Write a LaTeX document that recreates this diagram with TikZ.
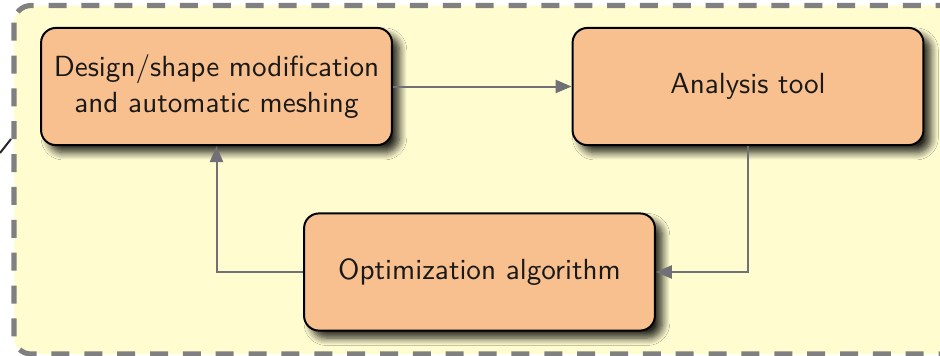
\documentclass[tikz,border=0pt]{standalone}
\usetikzlibrary{shadows.blur,arrows.meta}
\definecolor{panelfill}{RGB}{255,253,208}
\definecolor{boxfill}{RGB}{249,192,143}
\definecolor{framegray}{RGB}{128,128,128}
\definecolor{linkgray}{RGB}{112,112,118}
\begin{document}
\begin{tikzpicture}[x=0.35pt,y=-0.35pt,
  stagebox/.style={draw=black, line width=0.7pt, fill=boxfill,
    rounded corners=5.2pt, minimum width=122.8pt, minimum height=41pt,
    align=center, font=\sffamily\fontsize{10.2pt}{12.6pt}\selectfont,
    text=black!90,
    blur shadow={shadow xshift=2.6pt, shadow yshift=-2.6pt,
      shadow blur radius=2.6pt, shadow blur steps=8, shadow opacity=85}},
  link/.style={draw=linkgray, line width=0.7pt,
    -{Triangle[length=5.6pt,width=4.6pt]}},
]
\useasboundingbox (0,0) rectangle (940,355);

% incoming line ending at the panel edge
\coordinate (stubA) at (0,153);
\coordinate (stubB) at (11,139);
\draw[line width=0.7pt, black!85] (stubA) -- (stubB);

% dashed panel
\begin{scope}
  \clip (0,0) rectangle (940,355);
  \draw[fill=panelfill, draw=framegray, line width=1.8pt,
    dash pattern=on 6.3pt off 5.2pt, rounded corners=6pt]
    (14,5.5) rectangle (960,354);
\end{scope}

% process steps
\node[stagebox] (design) at (216.5,86.5) {Design/shape modification\\and automatic meshing};
\node[stagebox] (analysis) at (748,86.5) {Analysis tool};
\node[stagebox] (optim) at (479.5,272) {Optimization algorithm};

% loop connectors
\draw[link] (design) -- (analysis);
\draw[link] (analysis.south) |- (optim.east);
\draw[link] (optim.west) -| (design.south);
\end{tikzpicture}
\end{document}
